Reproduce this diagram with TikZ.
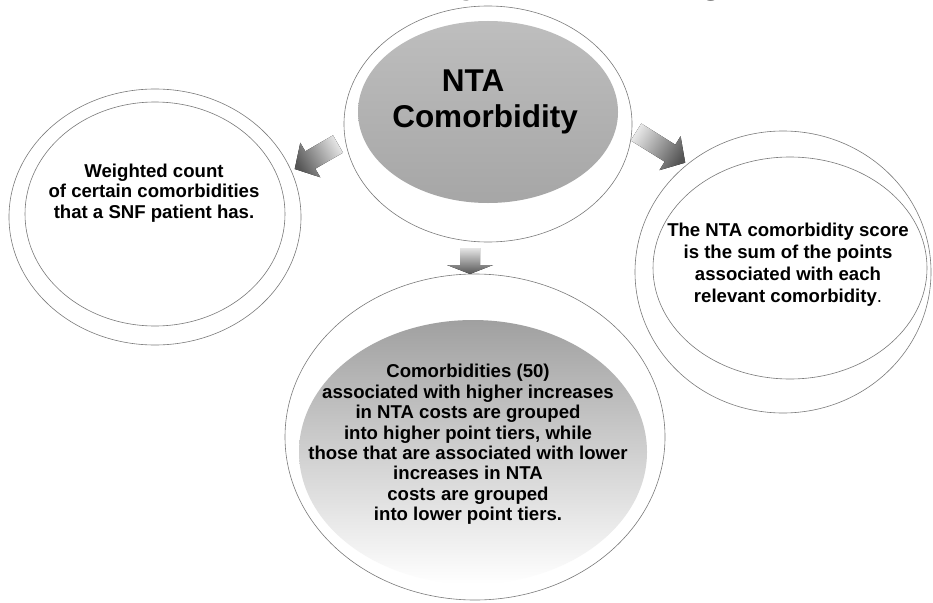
\documentclass[tikz,border=0pt]{standalone}
\usepackage{fontspec}
\setmainfont{Liberation Sans}
\usetikzlibrary{shapes.geometric}
\definecolor{ringline}{HTML}{7A7A7A}
\definecolor{coretop}{HTML}{BEBEBE}
\definecolor{corebot}{HTML}{A6A6A6}
\definecolor{basetop}{HTML}{A0A0A0}
\definecolor{basemid}{HTML}{D6D6D6}
\definecolor{arrowdark}{HTML}{555555}
\definecolor{arrowlight}{HTML}{E6E6E6}
\begin{document}
\begin{tikzpicture}[x=1pt,y=-1pt,
  ring/.style={ellipse, draw=ringline, line width=0.6pt, fill=white, inner sep=0pt},
  core/.style={ellipse, inner sep=0pt, draw=none},
  label/.style={align=center, inner sep=0pt, font=\bfseries\fontsize{18.6}{20.3}\selectfont},
  blockarrow/.style={draw=none, top color=arrowdark, bottom color=arrowlight},
  titlefrag/.style={anchor=base, inner sep=0pt, font=\bfseries\fontsize{40}{40}\selectfont}]
\useasboundingbox (0,0) rectangle (933,602);
\begin{scope}
\clip (0,0) rectangle (933,602);

% heading, mostly above the page edge
\node[titlefrag] (headY) at (473,-7.5) {y};
\node[titlefrag] (headG) at (712,-7.5) {g};

% centre: outer ring and shaded core
\node[ring, minimum width=288, minimum height=236] (centreRing) at (488,124) {};
\node[core, minimum width=260, minimum height=182, top color=coretop, bottom color=corebot] (centreCore) at (488,112) {};
\node[align=center, inner sep=0pt, font=\bfseries\fontsize{31.5}{36}\selectfont] (centreText) at (485,102)
  {NTA\hspace*{0.75em}\\Comorbidity};

% left: double ring
\node[ring, minimum width=292, minimum height=256] (leftOuter) at (155,217) {};
\node[ring, minimum width=260, minimum height=224] (leftInner) at (155,214) {};
\node[label] (leftText) at (154,193)
  {Weighted count\\of certain comorbidities\\that a SNF patient has.};

% right: double ring
\node[ring, minimum width=296, minimum height=282] (rightOuter) at (783,272) {};
\node[ring, minimum width=274, minimum height=222] (rightInner) at (790,268) {};
\node[label, font=\bfseries\fontsize{18.6}{22}\selectfont] (rightText) at (788,264.5)
  {The NTA comorbidity score\\is the sum of the points\\associated with each\\relevant comorbidity\textmd{.}};

% bottom: ring with fading core
\node[ring, minimum width=380, minimum height=326] (baseRing) at (475,437) {};
\node[core, minimum width=348, minimum height=264, top color=basetop, middle color=basemid, bottom color=white] (baseCore) at (473,452) {};
\node[label, font=\bfseries\fontsize{18.6}{20.4}\selectfont] (baseText) at (468,444.5)
  {Comorbidities (50)\\associated with higher increases\\in NTA costs are grouped\\into higher point tiers, while\\those that are associated with lower\\increases in NTA\\costs are grouped\\into lower point tiers.};

% block arrows from the centre to the three rings
\fill[blockarrow, shading angle=119.7]
  (333,135.3) -- (305.3,151.3) -- (300.3,142.7) -- (294.7,169) -- (320.3,177.3) -- (315.3,168.7) -- (343,152.7) -- cycle;
\fill[blockarrow, shading angle=-122]
  (641.3,123.5) -- (675.3,144.7) -- (680.6,136.2) -- (685.2,162.7) -- (659.4,170.2) -- (664.7,161.7) -- (630.7,140.5) -- cycle;
\fill[blockarrow, shading angle=180]
  (460,248) -- (480,248) -- (480,265) -- (493,265) -- (470,274) -- (447,265) -- (460,265) -- cycle;
\end{scope}
\end{tikzpicture}
\end{document}
